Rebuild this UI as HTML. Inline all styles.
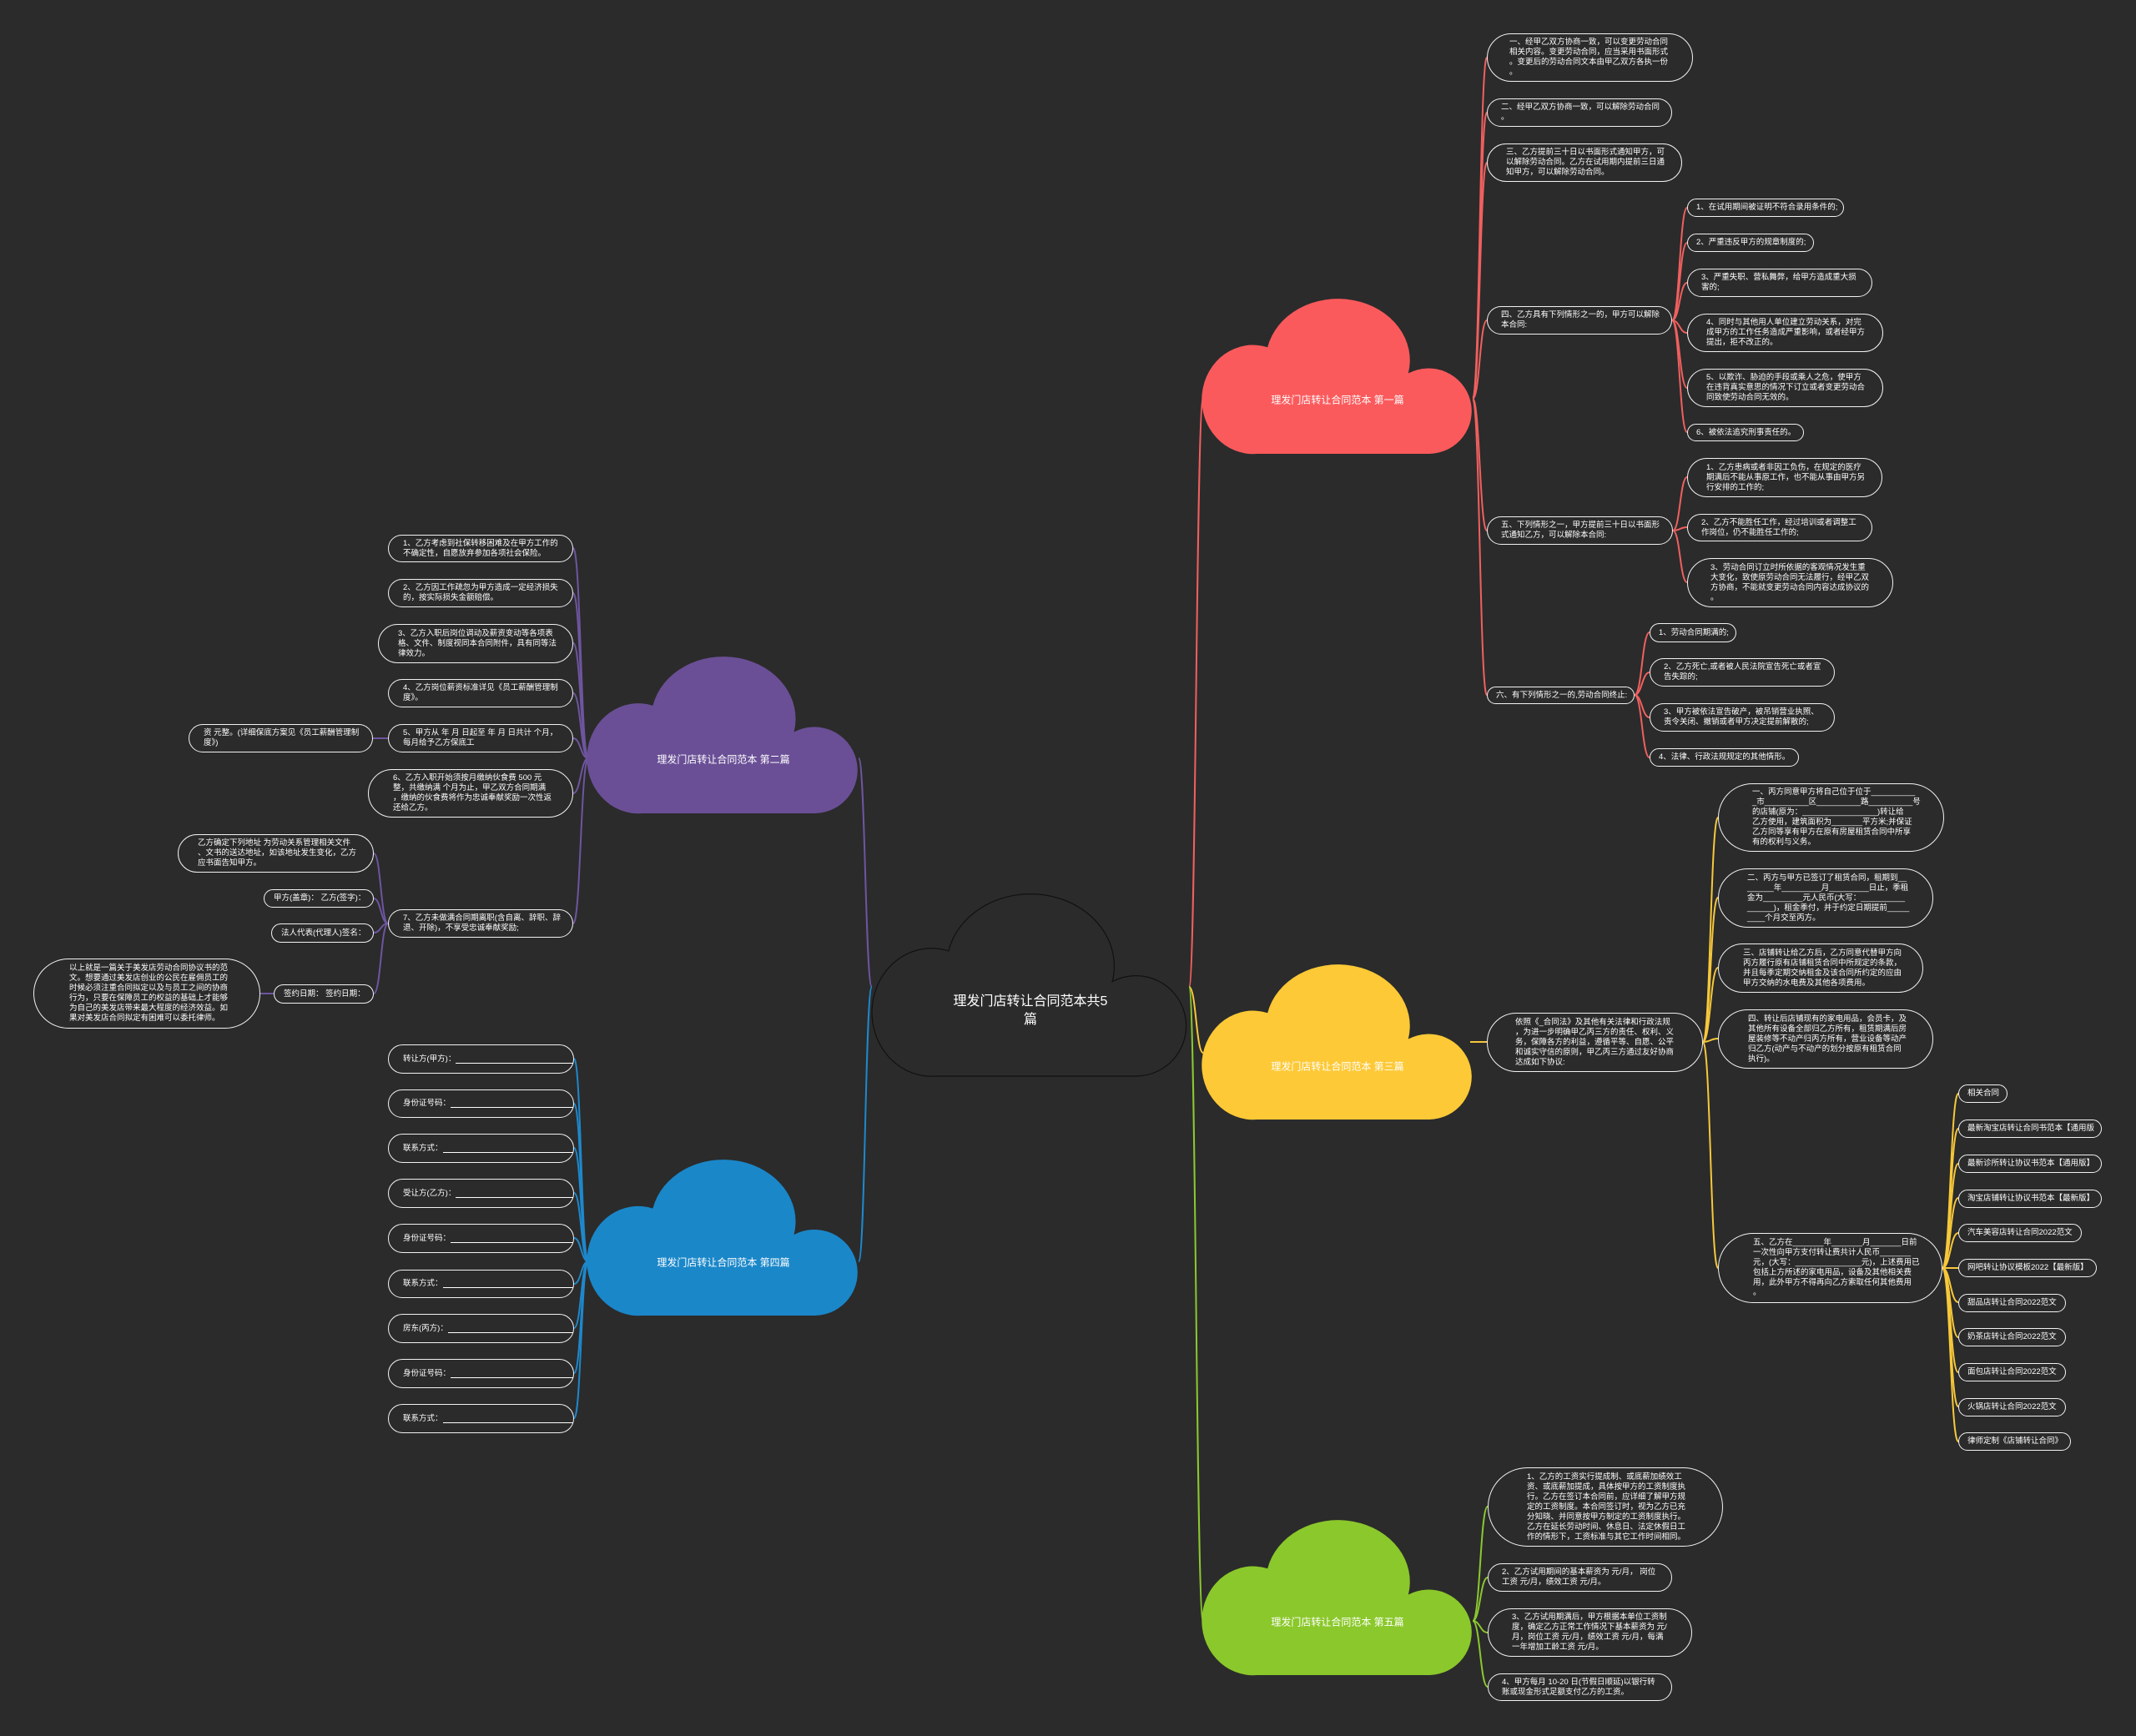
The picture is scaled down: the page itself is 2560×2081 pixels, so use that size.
<!DOCTYPE html>
<html><head><meta charset="utf-8">
<style>
html,body{margin:0;padding:0;background:#2b2b2b;}
#wrap{position:relative;width:2560px;height:2081px;overflow:hidden;background:#2b2b2b;font-family:"Liberation Sans","Noto Sans CJK SC",sans-serif;color:#fff;}
svg{position:absolute;left:0;top:0;}
.n{position:absolute;box-sizing:border-box;border:1.5px solid #f2f2f2;border-radius:999px;background:#2b2b2b;display:flex;align-items:center;font-size:9.5px;line-height:12px;white-space:nowrap;color:#fff;}
.ct{position:absolute;color:#fff;font-size:12px;white-space:nowrap;text-align:center;transform:translate(-50%,-50%);}
.u{display:inline-block;border-bottom:1px solid #fff;height:9px;vertical-align:baseline;}
</style></head><body>
<div id="wrap">
<svg id="lines" width="2560" height="2081"></svg>
<svg id="clouds" width="2560" height="2081"></svg>

<div class="ct" style="left:1235px;top:1212px;font-size:16px;line-height:22px;">理发门店转让合同范本共5<br>篇</div>
<div class="ct" style="left:1603px;top:479px;">理发门店转让合同范本 第一篇</div>
<div class="ct" style="left:867px;top:910px;">理发门店转让合同范本 第二篇</div>
<div class="ct" style="left:1603px;top:1278px;">理发门店转让合同范本 第三篇</div>
<div class="ct" style="left:867px;top:1513px;">理发门店转让合同范本 第四篇</div>
<div class="ct" style="left:1603px;top:1944px;">理发门店转让合同范本 第五篇</div>

<!-- 第一篇 -->
<div class="n" style="left:1782px;top:40px;width:247px;height:58px;padding-left:26px">一、经甲乙双方协商一致，可以变更劳动合同<br>相关内容。变更劳动合同，应当采用书面形式<br>。变更后的劳动合同文本由甲乙双方各执一份<br>。</div>
<div class="n" style="left:1782px;top:118px;width:222px;height:34px;padding-left:16px">二、经甲乙双方协商一致，可以解除劳动合同<br>。</div>
<div class="n" style="left:1782px;top:172px;width:234px;height:46px;padding-left:22px">三、乙方提前三十日以书面形式通知甲方，可<br>以解除劳动合同。乙方在试用期内提前三日通<br>知甲方，可以解除劳动合同。</div>
<div class="n" style="left:1782px;top:367px;width:222px;height:34px;padding-left:16px">四、乙方具有下列情形之一的，甲方可以解除<br>本合同:</div>
<div class="n" style="left:2022px;top:238px;width:188px;height:22px;padding-left:10px">1、在试用期间被证明不符合录用条件的;</div>
<div class="n" style="left:2022px;top:280px;width:152px;height:22px;padding-left:10px">2、严重违反甲方的规章制度的;</div>
<div class="n" style="left:2022px;top:322px;width:222px;height:34px;padding-left:16px">3、严重失职、营私舞弊，给甲方造成重大损<br>害的;</div>
<div class="n" style="left:2022px;top:376px;width:235px;height:46px;padding-left:22px">4、同时与其他用人单位建立劳动关系，对完<br>成甲方的工作任务造成严重影响，或者经甲方<br>提出，拒不改正的。</div>
<div class="n" style="left:2022px;top:442px;width:235px;height:46px;padding-left:22px">5、以欺诈、胁迫的手段或乘人之危，使甲方<br>在违背真实意思的情况下订立或者变更劳动合<br>同致使劳动合同无效的。</div>
<div class="n" style="left:2022px;top:508px;width:140px;height:21px;padding-left:10px">6、被依法追究刑事责任的。</div>
<div class="n" style="left:1782px;top:619px;width:223px;height:34px;padding-left:16px">五、下列情形之一，甲方提前三十日以书面形<br>式通知乙方，可以解除本合同:</div>
<div class="n" style="left:2022px;top:549px;width:234px;height:47px;padding-left:22px">1、乙方患病或者非因工负伤，在规定的医疗<br>期满后不能从事原工作，也不能从事由甲方另<br>行安排的工作的;</div>
<div class="n" style="left:2022px;top:616px;width:222px;height:33px;padding-left:16px">2、乙方不能胜任工作，经过培训或者调整工<br>作岗位，仍不能胜任工作的;</div>
<div class="n" style="left:2022px;top:669px;width:247px;height:59px;padding-left:27px">3、劳动合同订立时所依据的客观情况发生重<br>大变化，致使原劳动合同无法履行，经甲乙双<br>方协商，不能就变更劳动合同内容达成协议的<br>。</div>
<div class="n" style="left:1782px;top:823px;width:177px;height:21px;padding-left:10px">六、有下列情形之一的,劳动合同终止:</div>
<div class="n" style="left:1977px;top:747px;width:104px;height:23px;padding-left:10px">1、劳动合同期满的;</div>
<div class="n" style="left:1977px;top:789px;width:222px;height:34px;padding-left:16px">2、乙方死亡,或者被人民法院宣告死亡或者宣<br>告失踪的;</div>
<div class="n" style="left:1977px;top:843px;width:222px;height:34px;padding-left:16px">3、甲方被依法宣告破产，被吊销营业执照、<br>责令关闭、撤销或者甲方决定提前解散的;</div>
<div class="n" style="left:1977px;top:897px;width:179px;height:22px;padding-left:10px">4、法律、行政法规规定的其他情形。</div>

<!-- 第三篇 -->
<div class="n" style="left:1782px;top:1214px;width:259px;height:71px;padding-left:33px">依照《_合同法》及其他有关法律和行政法规<br>，为进一步明确甲乙丙三方的责任、权利、义<br>务，保障各方的利益，遵循平等、自愿、公平<br>和诚实守信的原则，甲乙丙三方通过友好协商<br>达成如下协议:</div>
<div class="n" style="left:2059px;top:939px;width:271px;height:82px;padding-left:40px">一、丙方同意甲方将自己位于位于__________<br>_市__________区__________路__________号<br>的店铺(原为：_________________)转让给<br>乙方使用，建筑面积为_______平方米;并保证<br>乙方同等享有甲方在原有房屋租赁合同中所享<br>有的权利与义务。</div>
<div class="n" style="left:2059px;top:1041px;width:258px;height:71px;padding-left:34px">二、丙方与甲方已签订了租赁合同，租期到__<br>______年_________月_________日止，季租<br>金为_________元人民币(大写：__________<br>______)，租金季付，并于约定日期提前_____<br>____个月交至丙方。</div>
<div class="n" style="left:2059px;top:1131px;width:246px;height:59px;padding-left:29px">三、店铺转让给乙方后，乙方同意代替甲方向<br>丙方履行原有店铺租赁合同中所规定的条款，<br>并且每季定期交纳租金及该合同所约定的应由<br>甲方交纳的水电费及其他各项费用。</div>
<div class="n" style="left:2059px;top:1210px;width:258px;height:71px;padding-left:35px">四、转让后店铺现有的家电用品，会员卡，及<br>其他所有设备全部归乙方所有，租赁期满后房<br>屋装修等不动产归丙方所有，营业设备等动产<br>归乙方(动产与不动产的划分按原有租赁合同<br>执行)。</div>
<div class="n" style="left:2059px;top:1478px;width:269px;height:84px;padding-left:41px">五、乙方在_______年_______月_______日前<br>一次性向甲方支付转让费共计人民币_______<br>元，(大写：_______________元)，上述费用已<br>包括上方所述的家电用品，设备及其他相关费<br>用，此外甲方不得再向乙方索取任何其他费用<br>。</div>
<div class="n" style="left:2347px;top:1300px;width:59px;height:22px;padding-left:10px">相关合同</div>
<div class="n" style="left:2347px;top:1342px;width:172px;height:22px;padding-left:10px">最新淘宝店转让合同书范本【通用版</div>
<div class="n" style="left:2347px;top:1384px;width:172px;height:22px;padding-left:10px">最新诊所转让协议书范本【通用版】</div>
<div class="n" style="left:2347px;top:1426px;width:172px;height:22px;padding-left:10px">淘宝店铺转让协议书范本【最新版】</div>
<div class="n" style="left:2347px;top:1467px;width:148px;height:22px;padding-left:10px">汽车美容店转让合同2022范文</div>
<div class="n" style="left:2347px;top:1509px;width:166px;height:22px;padding-left:10px">网吧转让协议模板2022【最新版】</div>
<div class="n" style="left:2347px;top:1551px;width:129px;height:22px;padding-left:10px">甜品店转让合同2022范文</div>
<div class="n" style="left:2347px;top:1592px;width:129px;height:22px;padding-left:10px">奶茶店转让合同2022范文</div>
<div class="n" style="left:2347px;top:1634px;width:129px;height:22px;padding-left:10px">面包店转让合同2022范文</div>
<div class="n" style="left:2347px;top:1676px;width:129px;height:22px;padding-left:10px">火锅店转让合同2022范文</div>
<div class="n" style="left:2347px;top:1717px;width:135px;height:22px;padding-left:10px">律师定制《店铺转让合同》</div>

<!-- 第五篇 -->
<div class="n" style="left:1783px;top:1759px;width:282px;height:95px;padding-left:46px">1、乙方的工资实行提成制、或底薪加绩效工<br>资、或底薪加提成，具体按甲方的工资制度执<br>行。乙方在签订本合同前，应详细了解甲方规<br>定的工资制度。本合同签订时，视为乙方已充<br>分知晓、并同意按甲方制定的工资制度执行。<br>乙方在延长劳动时间、休息日、法定休假日工<br>作的情形下，工资标准与其它工作时间相同。</div>
<div class="n" style="left:1783px;top:1874px;width:221px;height:34px;padding-left:16px">2、乙方试用期间的基本薪资为 元/月， 岗位<br>工资 元/月，绩效工资 元/月。</div>
<div class="n" style="left:1783px;top:1928px;width:245px;height:58px;padding-left:28px">3、乙方试用期满后，甲方根据本单位工资制<br>度，确定乙方正常工作情况下基本薪资为 元/<br>月，岗位工资 元/月，绩效工资 元/月，每满<br>一年增加工龄工资 元/月。</div>
<div class="n" style="left:1783px;top:2006px;width:221px;height:33px;padding-left:16px">4、甲方每月 10-20 日(节假日顺延)以银行转<br>账或现金形式足额支付乙方的工资。</div>

<!-- 第二篇 -->
<div class="n" style="left:465px;top:641px;width:222px;height:33px;padding-left:17px">1、乙方考虑到社保转移困难及在甲方工作的<br>不确定性，自愿放弃参加各项社会保险。</div>
<div class="n" style="left:465px;top:694px;width:222px;height:34px;padding-left:17px">2、乙方因工作疏忽为甲方造成一定经济损失<br>的，按实际损失金额赔偿。</div>
<div class="n" style="left:453px;top:748px;width:234px;height:47px;padding-left:23px">3、乙方入职后岗位调动及薪资变动等各项表<br>格、文件、制度视同本合同附件，具有同等法<br>律效力。</div>
<div class="n" style="left:465px;top:814px;width:222px;height:34px;padding-left:17px">4、乙方岗位薪资标准详见《员工薪酬管理制<br>度》。</div>
<div class="n" style="left:465px;top:868px;width:222px;height:34px;padding-left:17px">5、甲方从 年 月 日起至 年 月 日共计 个月，<br>每月给予乙方保底工</div>
<div class="n" style="left:226px;top:868px;width:221px;height:34px;padding-left:17px">资 元整。(详细保底方案见《员工薪酬管理制<br>度》)</div>
<div class="n" style="left:441px;top:922px;width:246px;height:58px;padding-left:29px">6、乙方入职开始须按月缴纳伙食费 500 元<br>整，共缴纳满 个月为止，甲乙双方合同期满<br>，缴纳的伙食费将作为忠诚奉献奖励一次性返<br>还给乙方。</div>
<div class="n" style="left:465px;top:1090px;width:222px;height:34px;padding-left:17px">7、乙方未做满合同期离职(含自离、辞职、辞<br>退、开除)，不享受忠诚奉献奖励;</div>
<div class="n" style="left:213px;top:1000px;width:235px;height:46px;padding-left:23px">乙方确定下列地址 为劳动关系管理相关文件<br>、文书的送达地址，如该地址发生变化，乙方<br>应书面告知甲方。</div>
<div class="n" style="left:316px;top:1066px;width:132px;height:22px;padding-left:11px">甲方(盖章)： 乙方(签字)：</div>
<div class="n" style="left:325px;top:1107px;width:123px;height:23px;padding-left:11px">法人代表(代理人)签名：</div>
<div class="n" style="left:328px;top:1180px;width:120px;height:23px;padding-left:11px">签约日期： 签约日期：</div>
<div class="n" style="left:40px;top:1149px;width:272px;height:84px;padding-left:42px">以上就是一篇关于美发店劳动合同协议书的范<br>文。想要通过美发店创业的公民在雇佣员工的<br>时候必须注重合同拟定以及与员工之间的协商<br>行为，只要在保障员工的权益的基础上才能够<br>为自己的美发店带来最大程度的经济效益。如<br>果对美发店合同拟定有困难可以委托律师。</div>

<!-- 第四篇 -->
<div class="n" style="left:465px;top:1252px;width:223px;height:35px;padding-left:17px">转让方(甲方)：<span class="u" style="width:122px"></span><br><span class="u" style="width:52px"></span></div>
<div class="n" style="left:465px;top:1306px;width:223px;height:34px;padding-left:17px">身份证号码：<span class="u" style="width:132px"></span><br><span class="u" style="width:52px"></span></div>
<div class="n" style="left:465px;top:1359px;width:223px;height:35px;padding-left:17px">联系方式：<span class="u" style="width:142px"></span><br><span class="u" style="width:52px"></span></div>
<div class="n" style="left:465px;top:1413px;width:223px;height:35px;padding-left:17px">受让方(乙方)：<span class="u" style="width:122px"></span><br><span class="u" style="width:52px"></span></div>
<div class="n" style="left:465px;top:1467px;width:223px;height:35px;padding-left:17px">身份证号码：<span class="u" style="width:132px"></span><br><span class="u" style="width:52px"></span></div>
<div class="n" style="left:465px;top:1522px;width:223px;height:34px;padding-left:17px">联系方式：<span class="u" style="width:142px"></span><br><span class="u" style="width:52px"></span></div>
<div class="n" style="left:465px;top:1575px;width:223px;height:35px;padding-left:17px">房东(丙方)：<span class="u" style="width:132px"></span><br><span class="u" style="width:52px"></span></div>
<div class="n" style="left:465px;top:1629px;width:223px;height:35px;padding-left:17px">身份证号码：<span class="u" style="width:132px"></span><br><span class="u" style="width:52px"></span></div>
<div class="n" style="left:465px;top:1683px;width:223px;height:35px;padding-left:17px">联系方式：<span class="u" style="width:142px"></span><br><span class="u" style="width:52px"></span></div>
</div>
<script>
(function(){
var NS="http://www.w3.org/2000/svg";
var R="#f0605f",P="#6e55a0",B="#1e88cc",Y="#f7c83a",G="#8cc830";
var E=[];
function fan(sx,sy,ex,ys,c){ys.forEach(function(y){E.push([sx,sy,ex,y,c]);});}
fan(1425,1183,1442,[478],R);fan(1425,1183,1442,[1262],Y);fan(1425,1183,1442,[1943],G);
fan(1045,1183,1029,[909],P);fan(1045,1183,1029,[1512],B);
fan(1765,478,1782,[69,135,195,384,636,833],R);
fan(2004,384,2022,[249,291,339,399,465,518],R);
fan(2005,636,2022,[572,632,698],R);
fan(1959,833,1977,[758,806,860,908],R);
fan(1762,1249,1782,[1249],Y);
fan(2041,1249,2059,[980,1076,1160,1245,1520],Y);
fan(2328,1520,2347,[1311,1353,1395,1436,1478,1520,1561,1603,1645,1686,1728],Y);
fan(1765,1943,1783,[1806,1891,1957,2022],G);
fan(705,909,687,[657,711,771,831,885,951,1107],P);
fan(465,885,447,[885],P);
fan(465,1107,448,[1023,1077,1118,1191],P);
fan(328,1191,312,[1191],P);
fan(705,1512,688,[1269,1323,1376,1430,1484,1539,1592,1646,1700],B);
var L=document.getElementById("lines");
E.forEach(function(e){var sx=e[0],sy=e[1],ex=e[2],ey=e[3],mx=(sx+ex)/2;
var p=document.createElementNS(NS,"path");
p.setAttribute("d","M"+sx+" "+sy+" C"+mx+" "+sy+" "+mx+" "+ey+" "+ex+" "+ey);
p.setAttribute("fill","none");p.setAttribute("stroke",e[4]);p.setAttribute("stroke-width","2");L.appendChild(p);});
var C=document.getElementById("clouds");
function cloud(x,y,w,h,fill,stroke){
var d="M"+(x+0.2*w)+" "+(y+h)+
" A"+(0.19*w)+" "+(0.357*h)+" 0 1 1 "+(x+0.239*w)+" "+(y+0.302*h)+
" A"+(0.265*w)+" "+(0.4*h)+" 0 1 1 "+(x+0.761*w)+" "+(y+0.473*h)+
" A"+(0.16*w)+" "+(0.28*h)+" 0 1 1 "+(x+0.84*w)+" "+(y+h)+" Z";
var p=document.createElementNS(NS,"path");p.setAttribute("d",d);p.setAttribute("fill",fill);
if(stroke){p.setAttribute("stroke",stroke);p.setAttribute("stroke-width","1.2");}
C.appendChild(p);}
cloud(1047,1075,376,215,"#2b2b2b","#111");
cloud(1442,361,323,183,"#fb5a5c");
cloud(705,790,324,185,"#6a4f96");
cloud(1442,1159,323,183,"#fdc936");
cloud(705,1393,324,184,"#1a87c9");
cloud(1442,1825,323,183,"#8bc82b");
})();
</script>
</body></html>
